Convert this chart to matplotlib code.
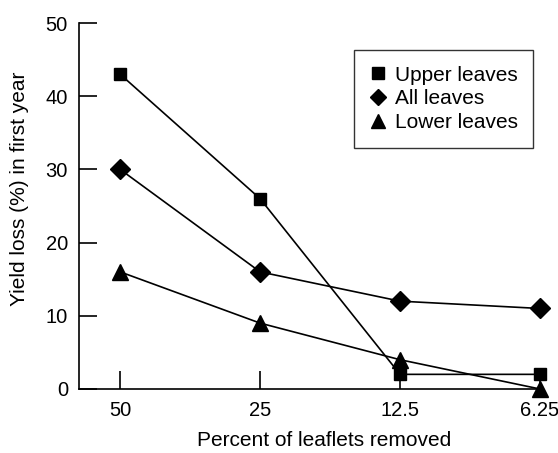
import matplotlib
matplotlib.use("Agg")
import matplotlib.pyplot as plt
from matplotlib.lines import Line2D

plt.rcParams['font.family'] = ['Liberation Sans', 'DejaVu Sans']

# data
x_labels = ['50', '25', '12.5', '6.25']
upper = [43, 26, 2, 2]
all_leaves = [30, 16, 12, 11]
lower = [16, 9, 4, 0]

xs = list(range(len(x_labels)))

fig = plt.figure(figsize=(5.58, 4.53), dpi=100)
ax = fig.add_axes([0.1416, 0.1413, 0.8261, 0.8079])

ax.plot(xs, upper, color='black', lw=1.2, marker='s', ms=9.3, clip_on=False, zorder=3)
ax.plot(xs, all_leaves, color='black', lw=1.2, marker='D', ms=10.5, clip_on=False, zorder=3)
ax.plot(xs, lower, color='black', lw=1.2, marker='^', ms=12, clip_on=False, zorder=3)

ax.set_xlim(-0.294, 3.0)
ax.set_ylim(0, 50)
ax.set_xticks(xs)
ax.set_xticklabels(x_labels)
ax.set_yticks([0, 10, 20, 30, 40, 50])

for s in ['top', 'right']:
    ax.spines[s].set_visible(False)
for s in ['left', 'bottom']:
    ax.spines[s].set_linewidth(1.2)

ax.tick_params(axis='both', direction='in', length=13, width=1.2, labelsize=14.5)
ax.tick_params(axis='x', pad=9)
ax.tick_params(axis='y', pad=8)

ax.set_xlabel('Percent of leaflets removed', fontsize=15)
ax.set_ylabel('Yield loss (%) in first year', fontsize=15)
ax.xaxis.set_label_coords(0.531, -0.115)
ax.yaxis.set_label_coords(-0.108, 0.546)

handles = [
    Line2D([], [], color='black', marker='s', ls='none', ms=8.5),
    Line2D([], [], color='black', marker='D', ls='none', ms=8.5),
    Line2D([], [], color='black', marker='^', ls='none', ms=10.5),
]
leg = ax.legend(handles, ['Upper leaves', 'All leaves', 'Lower leaves'],
                loc='upper left', bbox_to_anchor=(0.5965, 0.926), fontsize=15,
                frameon=True, fancybox=False, edgecolor='black',
                handlelength=0.8, handletextpad=0.4, borderpad=0.75,
                labelspacing=0.22, borderaxespad=0)
leg.get_frame().set_linewidth(1.0)

fig.savefig('out.png', dpi=100)
